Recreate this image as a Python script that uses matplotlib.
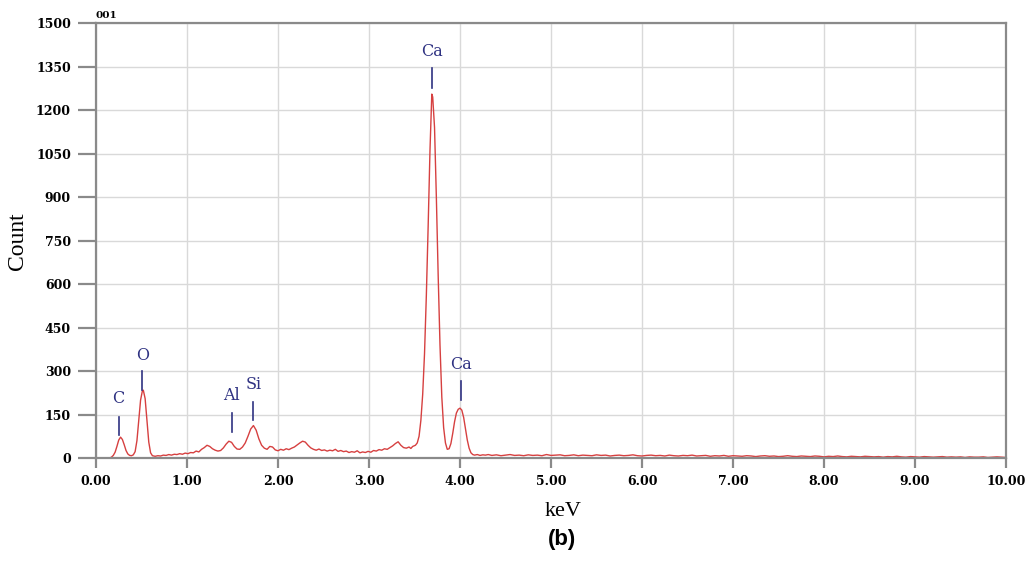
import numpy as np
import matplotlib.pyplot as plt

# spectrum (keV, counts)
kev_main = [0.00, 0.10, 0.15, 0.17, 0.19, 0.21, 0.23, 0.25, 0.27, 0.29, 0.31, 0.33, 0.35, 0.37, 0.39,
            0.41, 0.43, 0.45, 0.47, 0.49, 0.51, 0.52, 0.54, 0.56, 0.58, 0.60, 0.62, 0.65, 0.68, 0.71,
            0.74, 0.77, 0.80, 0.83, 0.86, 0.89, 0.92, 0.95, 0.98, 1.01, 1.04, 1.07, 1.10, 1.13, 1.16,
            1.19, 1.22, 1.25, 1.28, 1.31, 1.34, 1.37, 1.40, 1.43, 1.46, 1.49, 1.52, 1.55, 1.58, 1.61,
            1.64, 1.67, 1.70, 1.73, 1.76, 1.79, 1.82, 1.85, 1.88, 1.91, 1.94, 1.97, 2.00, 2.03, 2.06,
            2.09, 2.12, 2.15, 2.18, 2.21, 2.24, 2.27, 2.30, 2.33, 2.36, 2.39, 2.42, 2.45, 2.48, 2.51,
            2.54, 2.57, 2.60, 2.63, 2.66, 2.69, 2.72, 2.75, 2.78, 2.81, 2.84, 2.87, 2.90, 2.93, 2.96,
            2.99, 3.02, 3.05, 3.08, 3.11, 3.14, 3.17, 3.20, 3.23, 3.26, 3.29, 3.32, 3.35, 3.38, 3.41,
            3.44, 3.46, 3.48, 3.51, 3.53, 3.55, 3.57, 3.59, 3.61, 3.63, 3.65, 3.67, 3.69, 3.70, 3.72,
            3.74, 3.76, 3.78, 3.80, 3.82, 3.84, 3.86, 3.88, 3.90, 3.92, 3.94, 3.96, 3.98, 4.00, 4.02,
            4.04, 4.06, 4.08, 4.10, 4.12, 4.14, 4.16, 4.19, 4.22, 4.25, 4.28, 4.31]
cnt_main = [0, 0, 0, 3, 9, 20, 40, 62, 72, 64, 46, 26, 14, 9, 8,
            11, 22, 60, 130, 200, 232, 234, 205, 130, 55, 18, 8, 6, 8, 7,
            10, 9, 12, 10, 13, 12, 15, 13, 17, 15, 19, 18, 24, 21, 30,
            36, 44, 40, 32, 27, 24, 26, 35, 48, 58, 54, 40, 31, 30, 38,
            52, 75, 100, 112, 96, 66, 44, 34, 30, 40, 38, 28, 25, 30, 27,
            32, 29, 34, 38, 45, 52, 58, 55, 44, 35, 30, 27, 31, 26, 28,
            24, 27, 25, 30, 23, 26, 22, 24, 19, 22, 20, 25, 18, 21, 19,
            23, 20, 26, 24, 29, 27, 32, 30, 36, 42, 50, 56, 44, 36, 34,
            38, 33, 40, 44, 52, 75, 130, 220, 360, 560, 800, 1060, 1255, 1245, 1140,
            900, 630, 390, 210, 105, 52, 30, 32, 50, 85, 125, 155, 168, 172, 165,
            140, 100, 62, 34, 18, 12, 10, 12, 9, 11, 10, 12]

kev_tail = np.round(np.arange(4.35, 10.001, 0.05), 2)
cnt_tail = [9, 11, 8, 10, 12, 9, 10, 8, 11, 9,
            10, 8, 12, 9, 10, 11, 8, 9, 11, 8,
            10, 9, 8, 11, 9, 10, 7, 9, 10, 8,
            9, 11, 8, 7, 9, 10, 8, 9, 7, 10,
            8, 7, 9, 8, 10, 7, 8, 9, 6, 8,
            7, 9, 6, 8, 7, 6, 8, 7, 5, 7,
            8, 6, 7, 5, 6, 8, 6, 5, 7, 6,
            5, 7, 6, 4, 6, 5, 7, 5, 4, 6,
            5, 4, 6, 5, 4, 5, 3, 5, 4, 6,
            4, 3, 5, 4, 3, 5, 4, 3, 4, 5,
            3, 4, 3, 4, 2, 4, 3, 3, 4, 2,
            3, 4, 3, 2]
cnt_tail = cnt_tail[:len(kev_tail)]

kev = list(kev_main) + list(kev_tail)
cnt = list(cnt_main) + list(cnt_tail)

# element labels: text, x (keV), marker line bottom/top, text height
elements = ['C', 'O', 'Al', 'Si', 'Ca', 'Ca']
el_kev = [0.25, 0.51, 1.49, 1.73, 3.69, 4.01]
el_line_lo = [79, 234, 90, 131, 1276, 200]
el_line_hi = [141, 300, 155, 193, 1345, 265]
el_text_y = [207, 355, 214, 255, 1403, 321]

yticks = list(range(0, 1501, 150))
xticks = [0, 1, 2, 3, 4, 5, 6, 7, 8, 9, 10]

fig = plt.figure(figsize=(10.31, 5.62), dpi=100)
ax = fig.add_axes([0.0931, 0.185, 0.8827, 0.774])

ax.plot(kev, cnt, color='#d64040', lw=1.0)

navy = '#2f3282'
for name, x, lo, hi, ty in zip(elements, el_kev, el_line_lo, el_line_hi, el_text_y):
    ax.plot([x, x], [lo, hi], color=navy, lw=1.2)
    ax.text(x, ty, name, color=navy, ha='center', va='center',
            family='DejaVu Serif', fontsize=11.5)

ax.set_xlim(0, 10)
ax.set_ylim(0, 1500)
ax.set_xticks(xticks)
ax.set_xticklabels(['%.2f' % v for v in xticks])
ax.set_yticks(yticks)
ax.grid(True, color='#d9d9d9', lw=1.0)
ax.set_axisbelow(True)
for s in ax.spines.values():
    s.set_color('#8a8a8a')
    s.set_linewidth(1.6)
ax.tick_params(axis='y', length=13, width=1.6, color='#8a8a8a', pad=5, labelsize=9)
ax.tick_params(axis='x', length=7, width=1.6, color='#8a8a8a', pad=5, labelsize=9)
for lab in ax.get_xticklabels() + ax.get_yticklabels():
    lab.set_family('DejaVu Serif')
    lab.set_weight('bold')

fig.text(0.0165, 0.571, 'Count', family='Liberation Serif', fontsize=17,
         rotation=90, ha='center', va='center')
fig.text(0.546, 0.089, 'keV', family='Liberation Serif', fontsize=16,
         ha='center', va='center')
ax.text(0.0, 1.008, '001', transform=ax.transAxes, family='DejaVu Serif',
        fontsize=7.5, weight='bold', va='bottom', ha='left')
fig.text(0.545, 0.04, '(b)', family='Liberation Sans', fontsize=16, weight='bold',
         ha='center', va='center')

fig.savefig('out.png', dpi=100)
